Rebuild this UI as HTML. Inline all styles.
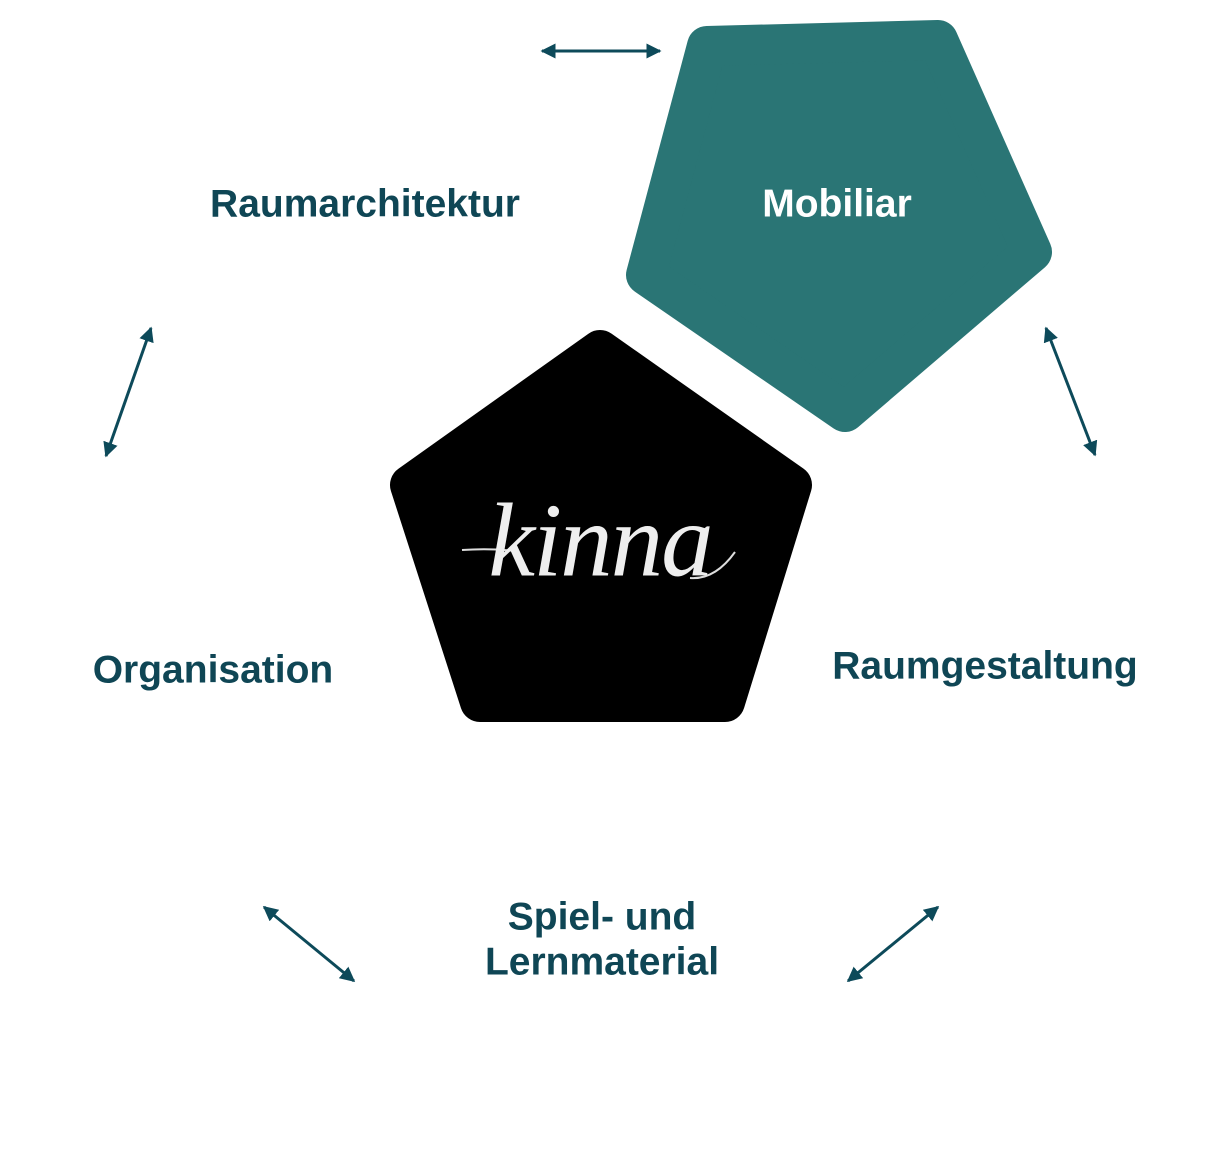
<!DOCTYPE html>
<html><head><meta charset="utf-8"><style>
html,body{margin:0;padding:0;background:#fff;}
svg{display:block}
.t{font-family:"Liberation Sans",sans-serif;font-weight:bold;font-size:39px;fill:#0f4655;text-anchor:middle;dominant-baseline:central}
</style></head><body>
<svg width="1206" height="1176" viewBox="0 0 1206 1176">
<defs>
<marker id="a" viewBox="0 0 10 10" refX="9" refY="5" markerWidth="5" markerHeight="5" orient="auto-start-reverse">
<path d="M0,0 L10,5 L0,10 z" fill="#0d4a5a"/></marker>
</defs>
<polygon points="707,46 938,40 1032,252 845,412 646,275" fill="#2a7575" stroke="#2a7575" stroke-width="40" stroke-linejoin="round"/>
<polygon points="600,350 792,485 725,702 480,702 410,485" fill="#000" stroke="#000" stroke-width="40" stroke-linejoin="round"/>
<g stroke="#0d4a5a" stroke-width="3" fill="none" marker-start="url(#a)" marker-end="url(#a)">
<line x1="542" y1="51" x2="660" y2="51"/>
<line x1="151" y1="328" x2="106" y2="456"/>
<line x1="1046" y1="328" x2="1095" y2="455"/>
<line x1="264" y1="907" x2="354" y2="981"/>
<line x1="938" y1="907" x2="848" y2="981"/>
</g>
<path d="M462,550 Q490,548 515,551" stroke="#ddd" stroke-width="2" fill="none"/>
<path d="M735,552 Q715,580 690,578" stroke="#ddd" stroke-width="2" fill="none"/>
<text x="600" y="540" font-family="'Liberation Serif',serif" font-style="italic" font-size="105" fill="#eee" text-anchor="middle" dominant-baseline="central" letter-spacing="-2">kinna</text>
<text class="t" x="365" y="204">Raumarchitektur</text>
<text class="t" x="837" y="204" style="fill:#fff">Mobiliar</text>
<text class="t" x="213" y="670">Organisation</text>
<text class="t" x="985" y="666">Raumgestaltung</text>
<text class="t" x="602" y="917">Spiel- und</text>
<text class="t" x="602" y="962">Lernmaterial</text>
</svg>
</body></html>
